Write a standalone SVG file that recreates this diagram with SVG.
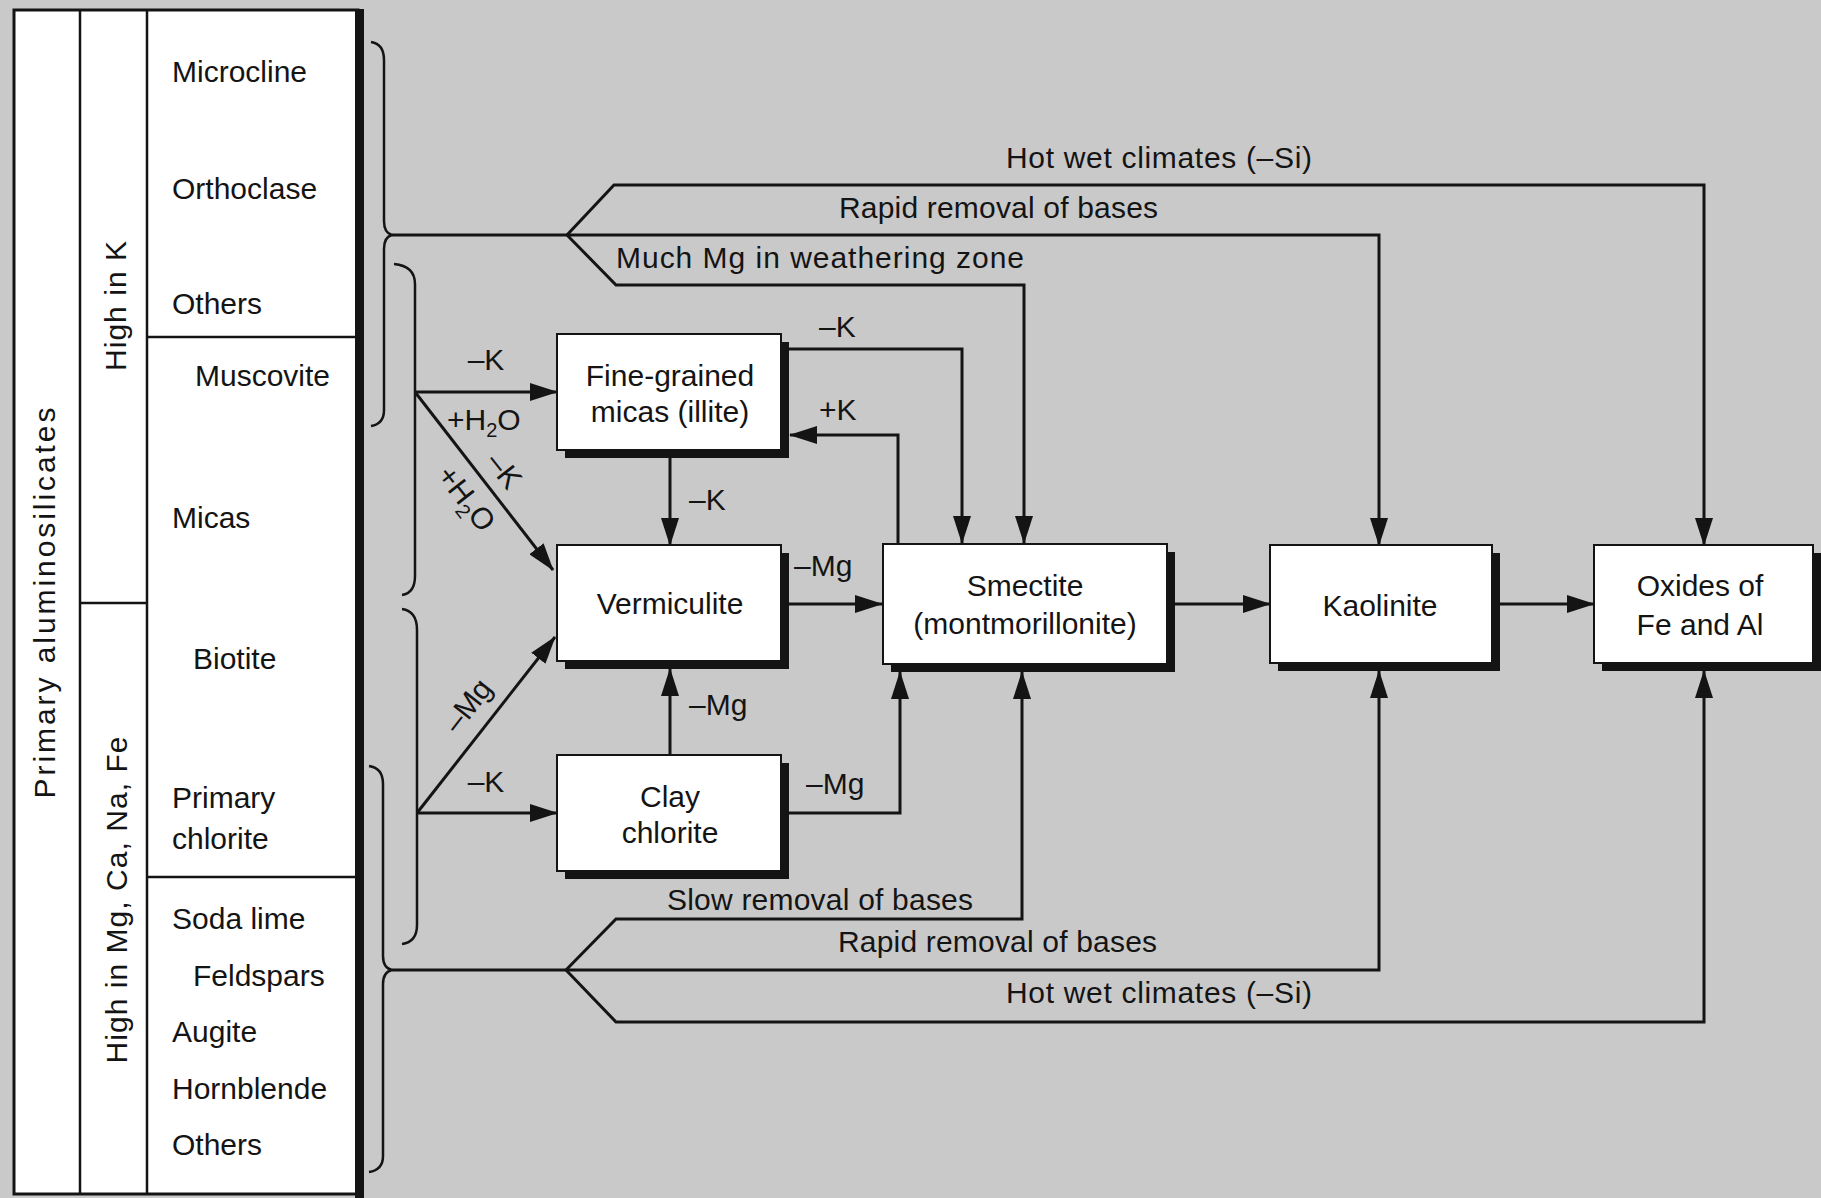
<svg xmlns="http://www.w3.org/2000/svg" width="1821" height="1198" viewBox="0 0 1821 1198">
<style>
text{font-family:"Liberation Sans",Arial,sans-serif;font-size:30px;fill:#141414}
.mid{text-anchor:middle}
.box{fill:#fff;stroke:#141414;stroke-width:2}
.shadow{fill:#141414}
.ln{fill:none;stroke:#141414;stroke-width:3}
.arr{fill:none;stroke:#141414;stroke-width:3;marker-end:url(#ah)}
.brace{fill:none;stroke:#141414;stroke-width:2.5}
.tl{stroke:#141414;stroke-width:2.5}
</style>
<defs>
<marker id="ah" markerUnits="userSpaceOnUse" markerWidth="28" markerHeight="18" refX="27" refY="9" orient="auto">
<path d="M0,0 L28,9 L0,18 z" fill="#141414"/>
</marker>
</defs>
<rect width="1821" height="1198" fill="#c9c9c9"/>

<g id="table">
<rect x="14" y="10" width="344" height="1184" fill="#fff" stroke="#141414" stroke-width="3"/>
<rect x="355" y="9" width="9" height="1189" fill="#141414"/>
<line class="tl" x1="80" y1="10" x2="80" y2="1194"/>
<line class="tl" x1="147" y1="10" x2="147" y2="1194"/>
<line class="tl" x1="80" y1="603" x2="147" y2="603"/>
<line class="tl" x1="147" y1="337" x2="356" y2="337"/>
<line class="tl" x1="147" y1="877" x2="356" y2="877"/>
<text transform="translate(55,603) rotate(-90)" class="mid" font-size="32" textLength="391" lengthAdjust="spacing">Primary aluminosilicates</text>
<text transform="translate(126,306) rotate(-90)" class="mid" font-size="31" textLength="130" lengthAdjust="spacing">High in K</text>
<text transform="translate(127,900) rotate(-90)" class="mid" font-size="31" textLength="327" lengthAdjust="spacing">High in Mg, Ca, Na, Fe</text>
<text x="172" y="82">Microcline</text>
<text x="172" y="199">Orthoclase</text>
<text x="172" y="314">Others</text>
<text x="195" y="386">Muscovite</text>
<text x="172" y="528">Micas</text>
<text x="193" y="669">Biotite</text>
<text x="172" y="808">Primary</text>
<text x="172" y="849">chlorite</text>
<text x="172" y="929">Soda lime</text>
<text x="193" y="986">Feldspars</text>
<text x="172" y="1042">Augite</text>
<text x="172" y="1099">Hornblende</text>
<text x="172" y="1155">Others</text>
</g>

<g id="braces">
<path class="brace" d="M371,42 Q384,44 384,60 L384,221 Q384,233 392,235 Q384,237 384,249 L384,410 Q384,424 371,426"/>
<path class="brace" d="M394,264 Q415,266 415,284 L415,576 Q415,593 402,595"/>
<path class="brace" d="M402,609 Q417,611 417,630 L417,925 Q417,942 402,944"/>
<path class="brace" d="M369,766 Q383,768 383,784 L383,956 Q383,968 392,970 Q383,972 383,984 L383,1156 Q383,1170 369,1172"/>
</g>

<g id="connectors">
<path class="arr" d="M392,235 L1379,235 L1379,545"/>
<path class="arr" d="M567,235 L614,185 L1704,185 L1704,545"/>
<path class="arr" d="M567,235 L616,285 L1024,285 L1024,543"/>
<path class="arr" d="M789,349 L962,349 L962,543"/>
<path class="arr" d="M898,544 L898,435 L790,435"/>
<path class="arr" d="M670,458 L670,545"/>
<path class="arr" d="M670,755 L670,669"/>
<path class="arr" d="M789,604 L882,604"/>
<path class="arr" d="M789,813 L900,813 L900,672"/>
<path class="arr" d="M1175,604 L1270,604"/>
<path class="arr" d="M1500,604 L1594,604"/>
<path class="arr" d="M415,392 L557,392"/>
<path class="arr" d="M415,392 L553,570"/>
<path class="arr" d="M417,813 L557,813"/>
<path class="arr" d="M417,813 L555,637"/>
<path class="arr" d="M392,970 L1379,970 L1379,671"/>
<path class="arr" d="M566,970 L616,919 L1022,919 L1022,672"/>
<path class="arr" d="M566,970 L616,1022 L1704,1022 L1704,671"/>
</g>

<g id="node-illite">
<rect class="shadow" x="565" y="342" width="224" height="116"/>
<rect class="box" x="557" y="334" width="224" height="116"/>
<text x="670" y="386" class="mid">Fine-grained</text>
<text x="670" y="422" class="mid">micas (illite)</text>
</g>
<g id="node-vermiculite">
<rect class="shadow" x="565" y="553" width="224" height="116"/>
<rect class="box" x="557" y="545" width="224" height="116"/>
<text x="670" y="614" class="mid">Vermiculite</text>
</g>
<g id="node-claychlorite">
<rect class="shadow" x="565" y="763" width="224" height="116"/>
<rect class="box" x="557" y="755" width="224" height="116"/>
<text x="670" y="807" class="mid">Clay</text>
<text x="670" y="843" class="mid">chlorite</text>
</g>
<g id="node-smectite">
<rect class="shadow" x="891" y="552" width="284" height="120"/>
<rect class="box" x="883" y="544" width="284" height="120"/>
<text x="1025" y="596" class="mid">Smectite</text>
<text x="1025" y="634" class="mid">(montmorillonite)</text>
</g>
<g id="node-kaolinite">
<rect class="shadow" x="1278" y="553" width="222" height="118"/>
<rect class="box" x="1270" y="545" width="222" height="118"/>
<text x="1380" y="616" class="mid">Kaolinite</text>
</g>
<g id="node-oxides">
<rect class="shadow" x="1602" y="553" width="219" height="118"/>
<rect class="box" x="1594" y="545" width="219" height="118"/>
<text x="1700" y="596" class="mid">Oxides of</text>
<text x="1700" y="635" class="mid">Fe and Al</text>
</g>

<g id="labels">
<text x="1006" y="168" textLength="306" lengthAdjust="spacing">Hot wet climates (–Si)</text>
<text x="839" y="218" textLength="319" lengthAdjust="spacing">Rapid removal of bases</text>
<text x="616" y="268" textLength="408" lengthAdjust="spacing">Much Mg in weathering zone</text>
<text x="667" y="910" textLength="306" lengthAdjust="spacing">Slow removal of bases</text>
<text x="838" y="952" textLength="319" lengthAdjust="spacing">Rapid removal of bases</text>
<text x="1006" y="1003" textLength="306" lengthAdjust="spacing">Hot wet climates (–Si)</text>
<text x="486" y="370" class="mid">–K</text>
<text x="447" y="430">+H<tspan font-size="20" dy="7">2</tspan><tspan dy="-7">O</tspan></text>
<text transform="translate(505,470) rotate(52)" y="11" class="mid">–K</text>
<text transform="translate(467,498) rotate(52)" y="11" class="mid">+H<tspan font-size="20" dy="7">2</tspan><tspan dy="-7">O</tspan></text>
<text transform="translate(467,705) rotate(-52)" y="11" class="mid">–Mg</text>
<text x="486" y="792" class="mid">–K</text>
<text x="689" y="510">–K</text>
<text x="689" y="715">–Mg</text>
<text x="794" y="576">–Mg</text>
<text x="806" y="794">–Mg</text>
<text x="819" y="420">+K</text>
<text x="819" y="337">–K</text>
</g>
</svg>
